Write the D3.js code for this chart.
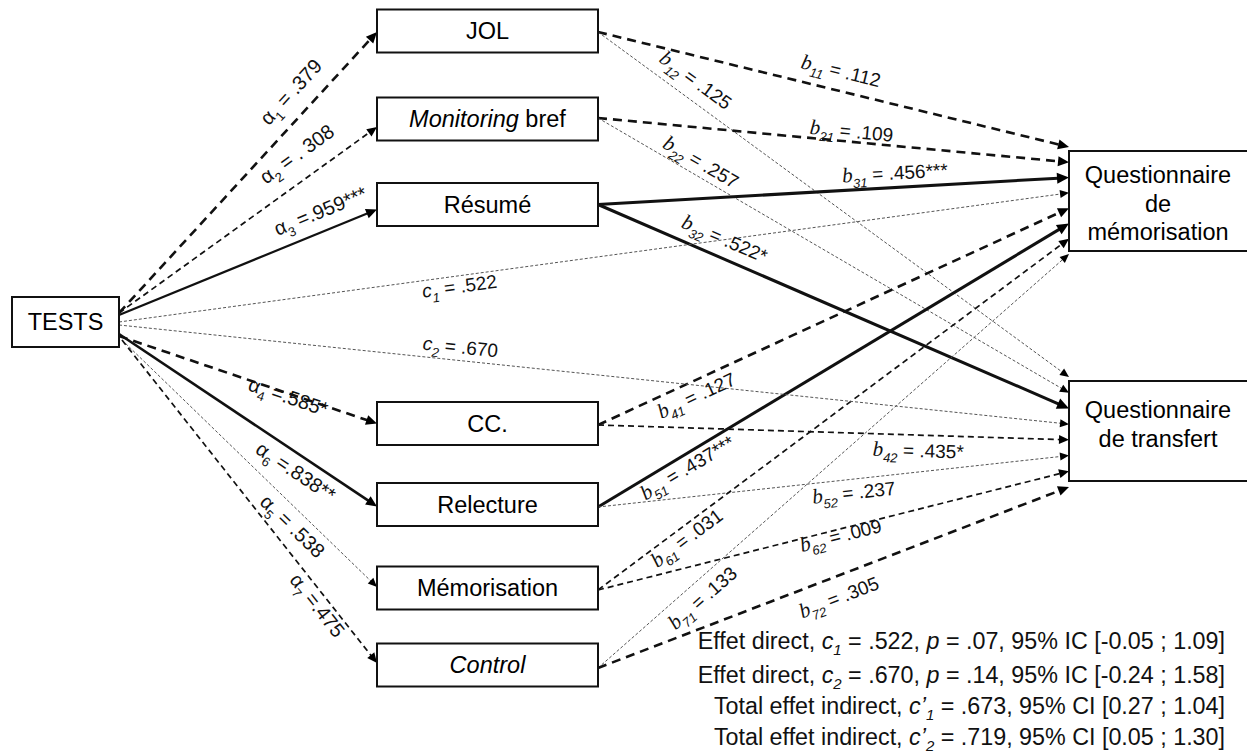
<!DOCTYPE html>
<html><head><meta charset="utf-8">
<script src="https://cdn.jsdelivr.net/npm/d3@7"></script>
<style>body{margin:0;background:#fff} svg{display:block}</style>
</head><body>
<svg id="chart" width="1247" height="755"></svg>
<script>
// ---------- DATA ----------
const predictor = "TESTS";
const mediators = ["JOL", "Monitoring bref", "Résumé", "CC.", "Relecture", "Mémorisation", "Control"];
const outcomes = ["Questionnaire de mémorisation", "Questionnaire de transfert"];
const aSubs   = ["1", "2", "3", "4", "6", "5", "7"];
const aValues = ["= .379", "= . 308", "=.959***", "=.585*", "=.838**", "= .538", "=.475"];
const b1Subs   = ["11", "21", "31", "41", "51", "61", "71"];
const b1Values = ["= .112", "= .109", "= .456***", "= .127", "= .437***", "= .031", "= .133"];
const b2Subs   = ["12", "22", "32", "42", "52", "62", "72"];
const b2Values = ["= .125", "= .257", "= .522*", "= .435*", "= .237", "= .009", "= .305"];
const cSubs   = ["1", "2"];
const cValues = ["= .522", "= .670"];
const summaryLines = [
  [["Effet direct, "], ["c", "i"], ["1", "s"], [" = .522, "], ["p", "i"], [" = .07, 95% IC [-0.05 ; 1.09]"]],
  [["Effet direct, "], ["c", "i"], ["2", "s"], [" = .670, "], ["p", "i"], [" = .14, 95% IC [-0.24 ; 1.58]"]],
  [["Total effet indirect, "], ["c’", "i"], ["1", "s"], [" = .673, 95% CI [0.27 ; 1.04]"]],
  [["Total effet indirect, "], ["c’", "i"], ["2", "s"], [" = .719, 95% CI [0.05 ; 1.30]"]]
];

// ---------- STYLES / LAYOUT ----------
const sans = "'Liberation Sans', Arial, sans-serif";
const serif = "'Liberation Serif', 'Times New Roman', serif";
const lineStyles = {
  thick:  {w: 2.6, dash: "9 6", c: "#111", ah: [11, 5]},
  med:    {w: 1.7, dash: "6 4", c: "#111", ah: [10, 4.5]},
  dot:    {w: 1.0, dash: "3 2", c: "#555", ah: [9, 4]},
  solid2: {w: 2.2, dash: null,  c: "#111", ah: [11, 5]},
  solid25:{w: 2.6, dash: null,  c: "#111", ah: [11, 5]},
  solid3: {w: 3.0, dash: null,  c: "#111", ah: [12, 5.5]}
};
const aStyle  = ["thick", "med", "solid2", "thick", "solid25", "dot", "med"];
const b1Style = ["thick", "thick", "solid3", "thick", "solid3", "med", "dot"];
const b2Style = ["dot", "dot", "solid3", "med", "dot", "med", "thick"];
const cStyle  = ["dot", "dot"];

const yMed = d3.scaleOrdinal().domain(mediators).range([31, 119, 204.5, 423.5, 504.5, 588, 665]);
const medBox = {x0: 377, x1: 598, h: 43};
const predBox = {x0: 12, x1: 119, y0: 297, y1: 347};
const outTop = d3.scaleOrdinal().domain(outcomes).range([151, 381]);
const outBox = {x0: 1069, x1: 1247, h: 100};
const outFirstLine = [24, 29];
const slotKeys = ["1", "2", "3", "c", "4", "5", "6", "7"];
const tipScale = [
  d3.scalePoint().domain(slotKeys).range([147, 254]),
  d3.scalePoint().domain(slotKeys).range([377, 487])
];
const aStartY  = [313, 313, 315, 336, 334, 340, 340];
const aStartX  = [119, 119, 119, 119, 119, 122, 122];
const aTipOff  = [1, 8, 5, 0, 2, -1, -2];
const bStartOff = [1, -1, 0, 1.5, 2.5, 2, 3];
const cStartY = [322, 325];

const aLab  = [[0.732, 21], [0.746, 23], [0.81, 18], [0.66, -5], [0.72, -18], [0.71, -17], [0.8, -13]];
const b1Lab = [[0.506, 18], [0.536, 9], [0.632, 13], [0.196, -16], [0.176, -14], [0.174, -13], [0.199, -18]];
const b2Lab = [[0.184, 17], [0.204, 12], [0.253, 17], [0.681, -17], [0.54, -15], [0.512, -8], [0.496, -22]];
const cLab  = [[0.357, -12], [0.358, 12]];

// ---------- BUILD EDGES ----------
const edges = [];
mediators.forEach((m, i) => {
  edges.push({x1: aStartX[i], y1: aStartY[i], x2: medBox.x0, y2: yMed(m) + aTipOff[i],
    st: aStyle[i], lab: aLab[i], fs: 20, parts: [["α", "sym"], [aSubs[i], "sub"], [" " + aValues[i], "txt"]]});
  edges.push({x1: medBox.x1, y1: yMed(m) + bStartOff[i], x2: outBox.x0, y2: tipScale[0](String(i + 1)),
    st: b1Style[i], lab: b1Lab[i], fs: 19, parts: [["b", "b"], [b1Subs[i], "subi"], [" " + b1Values[i], "txt"]]});
  edges.push({x1: medBox.x1, y1: yMed(m) + bStartOff[i], x2: outBox.x0, y2: tipScale[1](String(i + 1)),
    st: b2Style[i], lab: b2Lab[i], fs: 19, parts: [["b", "b"], [b2Subs[i], "subi"], [" " + b2Values[i], "txt"]]});
});
cValues.forEach((v, i) => {
  edges.push({x1: predBox.x1, y1: cStartY[i], x2: outBox.x0, y2: tipScale[i]("c"),
    st: cStyle[i], lab: cLab[i], fs: 19, parts: [["c", "ci"], [cSubs[i], "subi"], [" " + v, "txt"]]});
});

const svg = d3.select("#chart");
svg.append("rect").attr("width", 1247).attr("height", 755).attr("fill", "#fff");

const gLines = svg.append("g");
edges.forEach(e => {
  const s = lineStyles[e.st];
  const dx = e.x2 - e.x1, dy = e.y2 - e.y1, L = Math.hypot(dx, dy);
  const ux = dx / L, uy = dy / L;
  const [al, aw] = s.ah;
  const bx = e.x2 - ux * al, by = e.y2 - uy * al;
  gLines.append("line")
    .attr("x1", e.x1).attr("y1", e.y1).attr("x2", bx + ux * 1).attr("y2", by + uy * 1)
    .attr("stroke", s.c).attr("stroke-width", s.w)
    .attr("stroke-dasharray", s.dash);
  gLines.append("path")
    .attr("d", d3.line()([[e.x2, e.y2], [bx - uy * aw, by + ux * aw], [bx + uy * aw, by - ux * aw]]) + "Z")
    .attr("fill", "#000");
  e.ux = ux; e.uy = uy; e.L = L;
});

// ---------- BOXES ----------
const boxFont = 23.5;
const gBox = svg.append("g");
gBox.append("rect").attr("x", predBox.x0).attr("y", predBox.y0)
  .attr("width", predBox.x1 - predBox.x0).attr("height", predBox.y1 - predBox.y0)
  .attr("fill", "#fff").attr("stroke", "#111").attr("stroke-width", 2);
gBox.append("text").attr("x", (predBox.x0 + predBox.x1) / 2).attr("y", (predBox.y0 + predBox.y1) / 2)
  .attr("dy", "0.36em").attr("text-anchor", "middle").attr("font-family", sans).attr("font-size", boxFont)
  .text(predictor);

mediators.forEach(m => {
  const cy = yMed(m);
  gBox.append("rect").attr("x", medBox.x0).attr("y", cy - medBox.h / 2)
    .attr("width", medBox.x1 - medBox.x0).attr("height", medBox.h)
    .attr("fill", "#fff").attr("stroke", "#111").attr("stroke-width", 2);
  const t = gBox.append("text").attr("x", (medBox.x0 + medBox.x1) / 2).attr("y", cy)
    .attr("dy", "0.36em").attr("text-anchor", "middle").attr("font-family", sans).attr("font-size", boxFont);
  if (m === "Monitoring bref") {
    t.append("tspan").attr("font-style", "italic").text("Monitoring");
    t.append("tspan").text(" bref");
  } else if (m === "Control") {
    t.append("tspan").attr("font-style", "italic").text(m);
  } else t.text(m);
});

const outLines = [["Questionnaire", "de", "mémorisation"], ["Questionnaire", "de transfert"]];
outcomes.forEach((o, i) => {
  const y0 = outTop(o);
  gBox.append("rect").attr("x", outBox.x0).attr("y", y0)
    .attr("width", outBox.x1 - outBox.x0 + 5).attr("height", outBox.h)
    .attr("fill", "#fff").attr("stroke", "#111").attr("stroke-width", 2);
  const lh = 28.5;
  outLines[i].forEach((ln, k) => {
    gBox.append("text").attr("x", (outBox.x0 + outBox.x1) / 2).attr("y", y0 + outFirstLine[i] + k * lh)
      .attr("dy", "0.36em").attr("text-anchor", "middle").attr("font-family", sans).attr("font-size", boxFont)
      .text(ln);
  });
});

// ---------- EDGE LABELS ----------
const gLab = svg.append("g");
edges.forEach(e => {
  const [t, perp] = e.lab;
  const nx = e.uy, ny = -e.ux;
  const cx = e.x1 + e.ux * e.L * t + nx * perp;
  const cy = e.y1 + e.uy * e.L * t + ny * perp;
  const ang = Math.atan2(e.uy, e.ux) * 180 / Math.PI;
  const txt = gLab.append("text")
    .attr("transform", `translate(${cx},${cy}) rotate(${ang})`)
    .attr("text-anchor", "middle").attr("y", 5)
    .attr("font-family", sans).attr("font-size", e.fs).attr("fill", "#111");
  let shifted = false;
  e.parts.forEach(([s, kind]) => {
    const sp = txt.append("tspan").text(s);
    if (kind === "b") sp.attr("font-family", serif).attr("font-style", "italic").attr("font-size", e.fs + 2);
    if (kind === "ci") sp.attr("font-style", "italic");
    if (kind === "sub" || kind === "subi") {
      sp.attr("font-size", 13).attr("dy", 6);
      if (kind === "subi") sp.attr("font-style", "italic");
      shifted = true;
    }
    if (kind === "txt" && shifted) { sp.attr("dy", -6); }
  });
});

// ---------- SUMMARY ----------
const gSum = svg.append("g");
const sumBase = [649, 683, 714, 745];
summaryLines.forEach((parts, i) => {
  const t = gSum.append("text").attr("x", 1225).attr("y", sumBase[i])
    .attr("text-anchor", "end").attr("font-family", sans).attr("font-size", 23.3).attr("fill", "#111");
  let shifted = false;
  parts.forEach(([s, kind]) => {
    const sp = t.append("tspan").text(s);
    if (kind === "i") sp.attr("font-style", "italic");
    if (kind === "s") { sp.attr("font-size", 15).attr("font-style", "italic").attr("dy", 6); shifted = true; }
    else if (shifted) { sp.attr("dy", -6); shifted = false; }
  });
});
</script>
</body></html>
